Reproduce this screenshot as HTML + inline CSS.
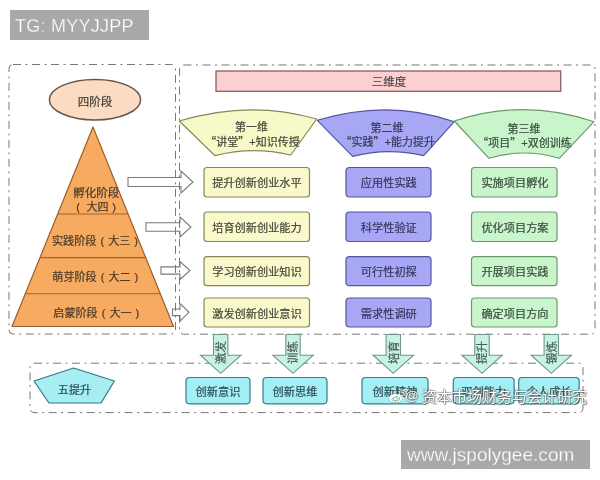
<!DOCTYPE html>
<html lang="zh-CN">
<head>
<meta charset="utf-8">
<title>三维度 四阶段 五提升</title>
<style>
html,body{margin:0;padding:0;background:#fff;}
body{width:600px;height:480px;overflow:hidden;position:relative;font-family:"Liberation Sans", "Noto Sans CJK SC", sans-serif;}
svg{position:absolute;left:0;top:0;}
svg text{font-family:"Liberation Sans", "Noto Sans CJK SC", sans-serif;stroke-width:.22px;}
.tag{position:absolute;background:#a9a9a9;color:#fff;font-family:"Liberation Sans", "Noto Sans CJK SC", sans-serif;white-space:nowrap;}
#tg{left:10px;top:10px;width:139px;height:30px;}
#tg span{position:absolute;left:5px;top:5.3px;font-size:18px;line-height:22px;letter-spacing:.25px;-webkit-text-stroke:.28px #a9a9a9;filter:blur(.3px);}
#site{left:401px;top:440px;width:189px;height:29px;}
#site span{position:absolute;left:6px;top:3.7px;font-size:19px;line-height:22px;letter-spacing:.03px;-webkit-text-stroke:.28px #a9a9a9;filter:blur(.3px);}
#wm{filter:blur(.35px);position:absolute;left:406px;top:386.5px;font-size:15px;line-height:20px;color:#fff;white-space:nowrap;
 text-shadow:0 0 1px rgba(70,70,70,.8),0 0 1.5px rgba(80,80,80,.6),.8px .8px 1px rgba(80,80,80,.65),-.6px -.6px 1px rgba(100,100,100,.4);}
#wm .at{font-size:13.5px;margin-right:3.2px;margin-left:-1px;position:relative;top:-1.2px;}
#wbi{position:absolute;left:387.1px;top:389px;filter:drop-shadow(0 0 .6px rgba(60,60,60,.9)) drop-shadow(.6px .6px .6px rgba(80,80,80,.7));}
</style>
</head>
<body>
<svg width="600" height="480" viewBox="0 0 600 480" style="filter:blur(0.6px)">
<rect x="9" y="64.5" width="166.5" height="269.5" rx="4" stroke="#707070" stroke-width="0.95" fill="none" stroke-dasharray="8 4.5 2 4.5"/>
<rect x="179.5" y="65" width="415.5" height="269.2" rx="4" stroke="#707070" stroke-width="0.95" fill="none" stroke-dasharray="8 4.5 2 4.5"/>
<rect x="30" y="363.2" width="553" height="49.4" rx="4" stroke="#707070" stroke-width="0.95" fill="none" stroke-dasharray="8 4.5 2 4.5"/>
<rect x="216" y="71" width="344.7" height="20.3" fill="#fccfd0" stroke="#856068" stroke-width="1.3"/>
<text x="389" y="85.5" font-size="11.5" fill="#4a4a4a" stroke="#4a4a4a" text-anchor="middle" >三维度</text>
<ellipse cx="95" cy="99.7" rx="45.6" ry="20.3" fill="#fbdcc2" stroke="#66574e" stroke-width="1.5"/>
<text x="95" y="105.8" font-size="11.5" fill="#4a4038" stroke="#4a4038" text-anchor="middle" >四阶段</text>
<path d="M93,127 L173.5,326.5 L12,326.5 Z" fill="#f7ab60" stroke="#9a5e2a" stroke-width="1.2" stroke-linejoin="round"/>
<line x1="57.7" y1="214" x2="128.1" y2="214" stroke="#a0642c" stroke-width="1.1"/>
<line x1="40.0" y1="257.6" x2="145.7" y2="257.6" stroke="#a0642c" stroke-width="1.1"/>
<line x1="25.3" y1="293.8" x2="160.3" y2="293.8" stroke="#a0642c" stroke-width="1.1"/>
<text x="96.3" y="196.8" font-size="11.5" fill="#4e3c2a" stroke="#4e3c2a" text-anchor="middle" >孵化阶段</text>
<text font-size="11" fill="#4e3c2a" stroke="#4e3c2a" y="210.8"><tspan x="76.2">(</tspan><tspan x="86.4">大四</tspan><tspan x="112.3">)</tspan></text>
<text font-size="11.1" fill="#4e3c2a" stroke="#4e3c2a" y="244.6"><tspan x="52">实践阶段</tspan><tspan x="100.5">(</tspan><tspan x="108.2">大三</tspan><tspan x="134.3">)</tspan></text>
<text font-size="11.1" fill="#4e3c2a" stroke="#4e3c2a" y="281"><tspan x="52.3">萌芽阶段</tspan><tspan x="100.8">(</tspan><tspan x="108.5">大二</tspan><tspan x="134.6">)</tspan></text>
<text font-size="11.1" fill="#4e3c2a" stroke="#4e3c2a" y="316.6"><tspan x="53.3">启蒙阶段</tspan><tspan x="101.8">(</tspan><tspan x="109.5">大一</tspan><tspan x="135.6">)</tspan></text>
<path d="M128,177.5 L181,177.5 L181,171 L193,182 L181,193 L181,186.5 L128,186.5 Z" fill="none" stroke="#7a7a7a" stroke-width="1.1" stroke-linejoin="miter"/>
<path d="M146,222.8 L180,222.8 L180,217 L191,227 L180,237 L180,231.2 L146,231.2 Z" fill="none" stroke="#7a7a7a" stroke-width="1.1" stroke-linejoin="miter"/>
<path d="M161,266.9 L180,266.9 L180,261.5 L190,270.5 L180,279.5 L180,274.1 L161,274.1 Z" fill="none" stroke="#7a7a7a" stroke-width="1.1" stroke-linejoin="miter"/>
<path d="M172.5,309.0 L180,309.0 L180,303.5 L189,312.3 L180,321.1 L180,315.6 L172.5,315.6 Z" fill="none" stroke="#7a7a7a" stroke-width="1.1" stroke-linejoin="miter"/>
<path d="M179.3,121 Q250.0,99.6 316.7,119 L290.7,155 Q252.2,145.8 215,155.7 Z" fill="#f8f9c8" stroke="#86885a" stroke-width="1.2" stroke-linejoin="round"/>
<path d="M317.3,120.3 Q388.2,98.6 454.3,121.7 L423.7,155.7 Q387.8,147.2 352.7,156.3 Z" fill="#a7a7f5" stroke="#55559c" stroke-width="1.2" stroke-linejoin="round"/>
<path d="M454.3,121 Q523.9,97.8 594,121.7 L559.3,158.3 Q523.9,147.7 489,158.3 Z" fill="#c9f5cb" stroke="#6c9a70" stroke-width="1.2" stroke-linejoin="round"/>
<text x="251.5" y="131.3" font-size="11" fill="#48483a" stroke="#48483a" text-anchor="middle" >第一维</text>
<text x="252.5" y="146" font-size="11" fill="#48483a" stroke="#48483a" text-anchor="middle" ><tspan font-family='"Noto Sans CJK SC", sans-serif'>“</tspan>讲堂<tspan font-family='"Noto Sans CJK SC", sans-serif'>”</tspan>+知识传授</text>
<text x="387" y="132" font-size="11" fill="#38385e" stroke="#38385e" text-anchor="middle" >第二维</text>
<text x="387.8" y="146.2" font-size="11" fill="#38385e" stroke="#38385e" text-anchor="middle" ><tspan font-family='"Noto Sans CJK SC", sans-serif'>“</tspan>实践<tspan font-family='"Noto Sans CJK SC", sans-serif'>”</tspan>+能力提升</text>
<text x="524" y="133.3" font-size="11" fill="#3c4e40" stroke="#3c4e40" text-anchor="middle" >第三维</text>
<text x="524.5" y="147" font-size="11" fill="#3c4e40" stroke="#3c4e40" text-anchor="middle" ><tspan font-family='"Noto Sans CJK SC", sans-serif'>“</tspan>项目<tspan font-family='"Noto Sans CJK SC", sans-serif'>”</tspan>+双创训练</text>
<rect x="204" y="167.5" width="105.5" height="29.5" rx="3" ry="3" fill="#f9f9cc" stroke="#86865a" stroke-width="1.2"/>
<text x="257" y="187.45" font-size="11.2" fill="#48483a" stroke="#48483a" text-anchor="middle" >提升创新创业水平</text>
<rect x="346" y="167.5" width="85" height="29.5" rx="3.5" ry="3.5" fill="#a7a7f5" stroke="#55559c" stroke-width="1.2"/>
<text x="388.8" y="187.45" font-size="11.2" fill="#38385e" stroke="#38385e" text-anchor="middle" >应用性实践</text>
<rect x="471.5" y="167.5" width="85.5" height="29.5" rx="3" ry="3" fill="#c9f5cb" stroke="#6c9a70" stroke-width="1.2"/>
<text x="515" y="187.45" font-size="11.2" fill="#3c4e40" stroke="#3c4e40" text-anchor="middle" >实施项目孵化</text>
<rect x="204" y="212" width="105.5" height="29.5" rx="3" ry="3" fill="#f9f9cc" stroke="#86865a" stroke-width="1.2"/>
<text x="257" y="231.95" font-size="11.2" fill="#48483a" stroke="#48483a" text-anchor="middle" >培育创新创业能力</text>
<rect x="346" y="212" width="85" height="29.5" rx="3.5" ry="3.5" fill="#a7a7f5" stroke="#55559c" stroke-width="1.2"/>
<text x="388.8" y="231.95" font-size="11.2" fill="#38385e" stroke="#38385e" text-anchor="middle" >科学性验证</text>
<rect x="471.5" y="212" width="85.5" height="29.5" rx="3" ry="3" fill="#c9f5cb" stroke="#6c9a70" stroke-width="1.2"/>
<text x="515" y="231.95" font-size="11.2" fill="#3c4e40" stroke="#3c4e40" text-anchor="middle" >优化项目方案</text>
<rect x="204" y="256.7" width="105.5" height="29" rx="3" ry="3" fill="#f9f9cc" stroke="#86865a" stroke-width="1.2"/>
<text x="257" y="276.4" font-size="11.2" fill="#48483a" stroke="#48483a" text-anchor="middle" >学习创新创业知识</text>
<rect x="346" y="256.7" width="85" height="29" rx="3.5" ry="3.5" fill="#a7a7f5" stroke="#55559c" stroke-width="1.2"/>
<text x="388.8" y="276.4" font-size="11.2" fill="#38385e" stroke="#38385e" text-anchor="middle" >可行性初探</text>
<rect x="471.5" y="256.7" width="85.5" height="29" rx="3" ry="3" fill="#c9f5cb" stroke="#6c9a70" stroke-width="1.2"/>
<text x="515" y="276.4" font-size="11.2" fill="#3c4e40" stroke="#3c4e40" text-anchor="middle" >开展项目实践</text>
<rect x="204" y="298" width="105.5" height="29" rx="3" ry="3" fill="#f9f9cc" stroke="#86865a" stroke-width="1.2"/>
<text x="257" y="317.7" font-size="11.2" fill="#48483a" stroke="#48483a" text-anchor="middle" >激发创新创业意识</text>
<rect x="346" y="298" width="85" height="29" rx="3.5" ry="3.5" fill="#a7a7f5" stroke="#55559c" stroke-width="1.2"/>
<text x="388.8" y="317.7" font-size="11.2" fill="#38385e" stroke="#38385e" text-anchor="middle" >需求性调研</text>
<rect x="471.5" y="298" width="85.5" height="29" rx="3" ry="3" fill="#c9f5cb" stroke="#6c9a70" stroke-width="1.2"/>
<text x="515" y="317.7" font-size="11.2" fill="#3c4e40" stroke="#3c4e40" text-anchor="middle" >确定项目方向</text>
<path d="M213.5,334.5 L213.5,355.2 L200.5,355.2 L220.7,373.3 L240.89999999999998,355.2 L227.89999999999998,355.2 L227.89999999999998,334.5 Z" fill="#c7f3e5" stroke="#74958c" stroke-width="1.1"/><text font-size="11.5" fill="#50605a" stroke="#50605a" text-anchor="middle" transform="translate(224.89999999999998,352.45000000000005) rotate(-90)">激发</text>
<path d="M285.8,334.5 L285.8,355.2 L272.8,355.2 L293,373.3 L313.2,355.2 L300.2,355.2 L300.2,334.5 Z" fill="#c7f3e5" stroke="#74958c" stroke-width="1.1"/><text font-size="11.5" fill="#50605a" stroke="#50605a" text-anchor="middle" transform="translate(297.2,352.45000000000005) rotate(-90)">训练</text>
<path d="M386.1,334.5 L386.1,355.2 L373.1,355.2 L393.3,373.3 L413.5,355.2 L400.5,355.2 L400.5,334.5 Z" fill="#c7f3e5" stroke="#74958c" stroke-width="1.1"/><text font-size="11.5" fill="#50605a" stroke="#50605a" text-anchor="middle" transform="translate(397.5,352.45000000000005) rotate(-90)">培育</text>
<path d="M474.8,334.5 L474.8,355.2 L461.8,355.2 L482,373.3 L502.2,355.2 L489.2,355.2 L489.2,334.5 Z" fill="#c7f3e5" stroke="#74958c" stroke-width="1.1"/><text font-size="11.5" fill="#50605a" stroke="#50605a" text-anchor="middle" transform="translate(486.2,352.45000000000005) rotate(-90)">提升</text>
<path d="M544.0999999999999,334.5 L544.0999999999999,355.2 L531.0999999999999,355.2 L551.3,373.3 L571.5,355.2 L558.5,355.2 L558.5,334.5 Z" fill="#c7f3e5" stroke="#74958c" stroke-width="1.1"/><text font-size="11.5" fill="#50605a" stroke="#50605a" text-anchor="middle" transform="translate(555.5,352.45000000000005) rotate(-90)">锻炼</text>
<path d="M73.6,368 L114.4,381 L101,403 L49,403 L34,381 Z" fill="#a6eef2" stroke="#347880" stroke-width="1.2" stroke-linejoin="round"/>
<text x="74.5" y="394" font-size="11.2" fill="#2e4e54" stroke="#2e4e54" text-anchor="middle" >五提升</text>
<rect x="186" y="377.5" width="64" height="26.3" rx="3.5" ry="3.5" fill="#a4eff3" stroke="#2f7f8c" stroke-width="1.2"/>
<text x="218.0" y="396" font-size="11.2" fill="#2e4e54" stroke="#2e4e54" text-anchor="middle" >创新意识</text>
<rect x="263" y="377.5" width="64" height="26.3" rx="3.5" ry="3.5" fill="#a4eff3" stroke="#2f7f8c" stroke-width="1.2"/>
<text x="295.0" y="396" font-size="11.2" fill="#2e4e54" stroke="#2e4e54" text-anchor="middle" >创新思维</text>
<rect x="362" y="377.5" width="66" height="26.3" rx="3.5" ry="3.5" fill="#a4eff3" stroke="#2f7f8c" stroke-width="1.2"/>
<text x="395.0" y="396" font-size="11.2" fill="#2e4e54" stroke="#2e4e54" text-anchor="middle" >创新精神</text>
<rect x="453.3" y="377.5" width="60.8" height="26.3" rx="3.5" ry="3.5" fill="#a4eff3" stroke="#2f7f8c" stroke-width="1.2"/>
<text x="483.7" y="396" font-size="11.2" fill="#2e4e54" stroke="#2e4e54" text-anchor="middle" >双创能力</text>
<rect x="518.7" y="377.5" width="60.5" height="26.3" rx="3.5" ry="3.5" fill="#a4eff3" stroke="#2f7f8c" stroke-width="1.2"/>
<text x="548.95" y="396" font-size="11.2" fill="#2e4e54" stroke="#2e4e54" text-anchor="middle" >个人成长</text>
</svg>
<svg id="wbi" width="20.7" height="16" preserveAspectRatio="none" viewBox="0 0 20 18"><path d="M8.2,5.2 C4.6,5.6 1.6,8.4 1.8,11.2 C2,14 5.2,15.8 9,15.4 C12.8,15 15.6,12.6 15.2,10 C15,8.8 14,8.2 13.2,8 C13.6,7 13.4,6.2 12.6,5.8 C11.6,5.4 10.4,5.8 9.6,6.2 C9.8,5.4 9.2,5.1 8.2,5.2 Z M8.4,8.6 C10.6,8.4 12.4,9.4 12.5,10.9 C12.6,12.4 10.9,13.7 8.7,13.9 C6.5,14.1 4.7,13.1 4.6,11.6 C4.5,10.1 6.2,8.8 8.4,8.6 Z" fill="#fff" fill-rule="evenodd"/><path d="M13.4,3.4 C15.4,3 17,4.6 16.6,6.6" fill="none" stroke="#fff" stroke-width="1.2" stroke-linecap="round"/><path d="M13.2,1.2 C16.6,0.6 19.4,3.4 18.8,6.8" fill="none" stroke="#fff" stroke-width="1.2" stroke-linecap="round"/><circle cx="8" cy="11.4" r="1.5" fill="#fff"/></svg>
<div id="wm"><span class="at">@</span>资本市场财务与会计研究</div>
<div class="tag" id="tg"><span>TG: MYYJJPP</span></div>
<div class="tag" id="site"><span>www.jspolygee.com</span></div>
</body>
</html>
